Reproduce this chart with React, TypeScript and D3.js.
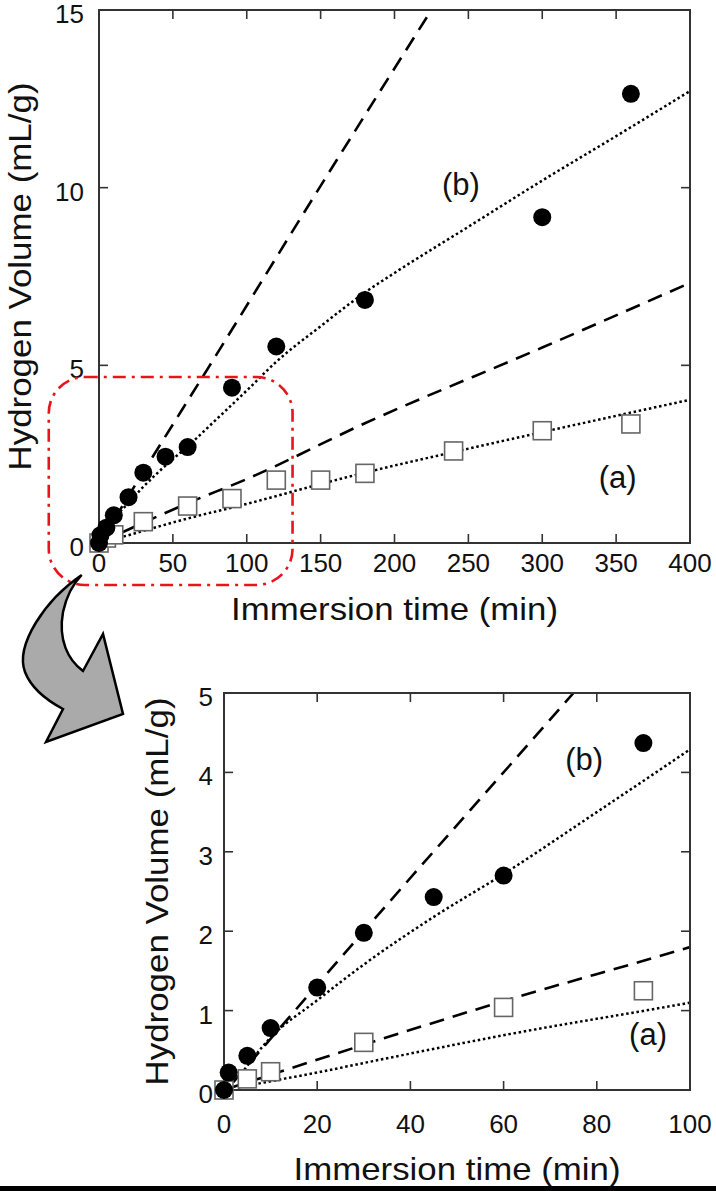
import * as d3 from "d3";

const FONT = "'Liberation Sans', Arial, Helvetica, sans-serif";

// measured points, curve (b): filled circles
const T_B = [0, 1, 5, 10, 20, 30, 45, 60, 90, 120, 180, 300, 360];
const V_B = [0, 0.22, 0.43, 0.78, 1.29, 1.98, 2.43, 2.7, 4.37, 5.53, 6.84, 9.17, 12.64];

// measured points, curve (a): open squares
const T_A = [0, 5, 10, 30, 60, 90, 120, 150, 180, 240, 300, 360];
const V_A = [0, 0.14, 0.23, 0.6, 1.04, 1.25, 1.77, 1.77, 1.96, 2.59, 3.16, 3.35];

// model lines
const FIT_B_DASH_T = [2, 30, 75, 150, 225];
const FIT_B_DASH_V = [0.1, 2.0, 5.0, 10.05, 15.0];
const FIT_B_DOT_T = [3, 10, 20, 30, 45, 60, 80, 100, 120, 150, 180, 200, 250, 300, 350, 400];
const FIT_B_DOT_V = [0.15, 0.66, 1.13, 1.58, 2.18, 2.72, 3.5, 4.29, 5.1, 6.1, 7.05, 7.6, 8.9, 10.2, 11.45, 12.72];
const FIT_A_DASH_T = [0, 30, 60, 100, 180, 300, 400];
const FIT_A_DASH_V = [0, 0.57, 1.12, 1.8, 3.37, 5.5, 7.32];
const FIT_A_DOT_T = [3, 10, 20, 30, 60, 100, 150, 180, 240, 300, 360, 400];
const FIT_A_DOT_V = [0.03, 0.11, 0.22, 0.34, 0.69, 1.1, 1.66, 1.98, 2.56, 3.12, 3.67, 4.03];

// axis ticks
const TOP_X_TICKS = [0, 50, 100, 150, 200, 250, 300, 350, 400];
const TOP_Y_TICKS = [0, 5, 10, 15];
const BOT_X_TICKS = [0, 20, 40, 60, 80, 100];
const BOT_Y_TICKS = [0, 1, 2, 3, 4, 5];

// region highlighted in the full plot (min, mL/g)
const ZOOM_T = [-34, 131];
const ZOOM_V = [-1.18, 4.67];

type Pt = [number, number];
const zip = (t: number[], v: number[]): Pt[] => t.map((d, i) => [d, v[i]]);

type PanelProps = {
  id: string;
  left: number;
  top: number;
  right: number;
  bottom: number;
  xMax: number;
  yMax: number;
  xTicks: number[];
  yTicks: number[];
  yLabelX: number;
  xLabelY: number;
  xTitleY: number;
  yTitleX: number;
  labelB: Pt;
  labelA: Pt;
  showZoom?: boolean;
};

function Panel(p: PanelProps) {
  const x = d3.scaleLinear().domain([0, p.xMax]).range([p.left, p.right]);
  const y = d3.scaleLinear().domain([0, p.yMax]).range([p.bottom, p.top]);
  const line = d3
    .line<Pt>()
    .x((d) => x(d[0]))
    .y((d) => y(d[1]))
    .curve(d3.curveMonotoneX);

  const tick = 9;
  const cx = (p.left + p.right) / 2;
  const cy = (p.top + p.bottom) / 2;
  const sq = 18;

  return (
    <g>
      <defs>
        <clipPath id={p.id}>
          <rect x={p.left} y={p.top} width={p.right - p.left} height={p.bottom - p.top} />
        </clipPath>
      </defs>

      {/* model lines */}
      <g clipPath={`url(#${p.id})`} fill="none" stroke="#000">
        <path d={line(zip(FIT_B_DASH_T, FIT_B_DASH_V)) ?? ""} strokeWidth={2.6} strokeDasharray="15 9" />
        <path d={line(zip(FIT_A_DASH_T, FIT_A_DASH_V)) ?? ""} strokeWidth={2.6} strokeDasharray="15 9" />
        <path d={line(zip(FIT_B_DOT_T, FIT_B_DOT_V)) ?? ""} strokeWidth={2.5} strokeDasharray="2.5 2.7" />
        <path d={line(zip(FIT_A_DOT_T, FIT_A_DOT_V)) ?? ""} strokeWidth={2.5} strokeDasharray="2.5 2.7" />
      </g>

      {/* frame and inward ticks */}
      <rect
        x={p.left}
        y={p.top}
        width={p.right - p.left}
        height={p.bottom - p.top}
        fill="none"
        stroke="#333"
        strokeWidth={2}
      />
      <g stroke="#333" strokeWidth={1.6}>
        {p.xTicks.map((t) => (
          <g key={`xt${t}`}>
            <line x1={x(t)} x2={x(t)} y1={p.bottom} y2={p.bottom - tick} />
            <line x1={x(t)} x2={x(t)} y1={p.top} y2={p.top + tick} />
          </g>
        ))}
        {p.yTicks.map((v) => (
          <g key={`yt${v}`}>
            <line x1={p.left} x2={p.left + tick} y1={y(v)} y2={y(v)} />
            <line x1={p.right} x2={p.right - tick} y1={y(v)} y2={y(v)} />
          </g>
        ))}
      </g>

      {/* points */}
      {T_A.map((t, i) =>
        t <= p.xMax ? (
          <rect
            key={`a${i}`}
            x={x(t) - sq / 2}
            y={y(V_A[i]) - sq / 2}
            width={sq}
            height={sq}
            fill="#fff"
            stroke="#666"
            strokeWidth={1.6}
          />
        ) : null
      )}
      {T_B.map((t, i) =>
        t <= p.xMax && V_B[i] <= p.yMax ? (
          <circle key={`b${i}`} cx={x(t)} cy={y(V_B[i])} r={9} fill="#000" />
        ) : null
      )}

      {/* tick labels */}
      <g fontFamily={FONT} fontSize={26} fill="#111">
        {p.xTicks.map((t) => (
          <text key={`xl${t}`} x={x(t)} y={p.xLabelY} textAnchor="middle">
            {t}
          </text>
        ))}
        {p.yTicks.map((v) => (
          <text key={`yl${v}`} x={p.yLabelX} y={y(v) + 13} textAnchor="end">
            {v}
          </text>
        ))}
      </g>

      {/* curve labels */}
      <g fontFamily={FONT} fontSize={31} fill="#111" textAnchor="middle">
        <text x={x(p.labelB[0])} y={y(p.labelB[1])}>(b)</text>
        <text x={x(p.labelA[0])} y={y(p.labelA[1])}>(a)</text>
      </g>

      {/* axis titles */}
      <text
        x={cx}
        y={p.xTitleY}
        textAnchor="middle"
        fontFamily={FONT}
        fontSize={32}
        fill="#111"
        textLength={327}
        lengthAdjust="spacingAndGlyphs"
      >
        Immersion time (min)
      </text>
      <text
        transform={`translate(${p.yTitleX},${cy}) rotate(-90)`}
        textAnchor="middle"
        fontFamily={FONT}
        fontSize={32}
        fill="#111"
        textLength={388}
        lengthAdjust="spacingAndGlyphs"
      >
        Hydrogen Volume (mL/g)
      </text>

      {p.showZoom ? (
        <rect
          x={x(ZOOM_T[0])}
          y={y(ZOOM_V[1])}
          width={x(ZOOM_T[1]) - x(ZOOM_T[0])}
          height={y(ZOOM_V[0]) - y(ZOOM_V[1])}
          rx={36}
          fill="none"
          stroke="#e8141c"
          strokeWidth={2.6}
          strokeDasharray="13 6 3 6"
        />
      ) : null}
    </g>
  );
}

export default function App() {
  return (
    <svg
      width={716}
      height={1191}
      style={{ position: "absolute", left: 0, top: 0, background: "#fff", display: "block" }}
    >
      <rect width={716} height={1191} fill="#fff" />
      <Panel
        id="clipTop"
        left={99}
        top={10}
        right={690}
        bottom={543}
        xMax={400}
        yMax={15}
        xTicks={TOP_X_TICKS}
        yTicks={TOP_Y_TICKS}
        yLabelX={84}
        xLabelY={572}
        xTitleY={620}
        yTitleX={31}
        labelB={[245, 9.8]}
        labelA={[351, 1.55]}
        showZoom
      />
      <Panel
        id="clipBottom"
        left={224}
        top={693}
        right={690}
        bottom={1090}
        xMax={100}
        yMax={5}
        xTicks={BOT_X_TICKS}
        yTicks={BOT_Y_TICKS}
        yLabelX={213}
        xLabelY={1133}
        xTitleY={1180}
        yTitleX={168}
        labelB={[77.3, 4.03]}
        labelA={[91, 0.57]}
      />

      {/* curved arrow */}
      <path
        d="M81.7,575 C45,600 15,645 25,672 C32,690 48,701 63,709 L46,742 L123,714 L103,634 L83,671 C68,660 58,640 63,612 C66,598 72,585 81.7,575 Z"
        fill="#aaa"
        stroke="#000"
        strokeWidth={2.5}
        strokeLinejoin="miter"
      />

      <rect x={0} y={1186} width={716} height={5} fill="#000" />
    </svg>
  );
}
